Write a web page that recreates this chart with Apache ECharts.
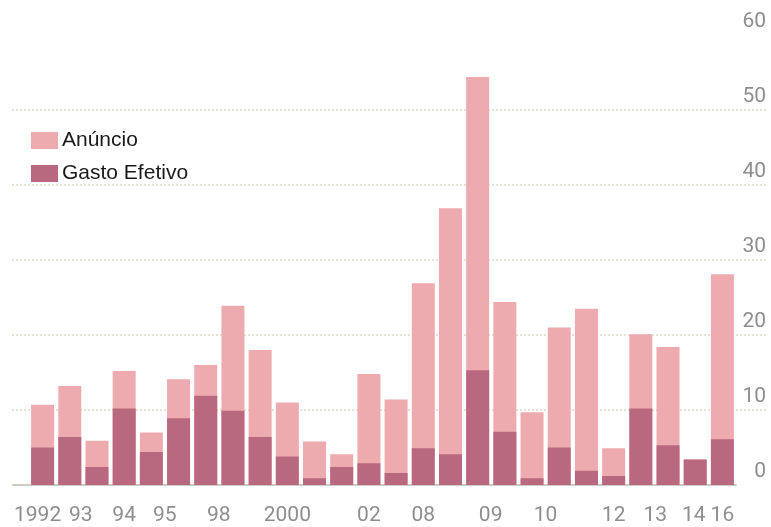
<!DOCTYPE html>
<html>
<head>
<meta charset="utf-8">
<script src="https://cdn.jsdelivr.net/npm/echarts@6/dist/echarts.min.js"></script>
<style>
  html, body { margin: 0; padding: 0; background: #fff; }
  #chart { width: 771px; height: 527px; }
</style>
</head>
<body>
<div id="chart"></div>
<script>
// one bar per announcement, labelled by year where the original has a label
const categories = ['1992', '93', '', '94', '95', '', '98', '', '', '2000', '', '', '02',
                    '', '08', '', '09', '', '10', '', '', '12', '13', '', '14', '16'];
const anuncio = [10.7, 13.2, 5.9, 15.2, 7.0, 14.1, 16.0, 23.9, 18.0, 11.0, 5.8, 4.1, 14.8,
                 11.4, 26.9, 36.9, 54.4, 24.4, 9.7, 21.0, 23.5, 4.9, 20.1, 18.4, 3.4, 28.1];
const gastoEfetivo = [5.0, 6.4, 2.4, 10.2, 4.4, 8.9, 11.9, 9.9, 6.4, 3.8, 0.9, 2.4, 2.9,
                      1.6, 4.9, 4.1, 15.3, 7.1, 0.9, 5.0, 1.9, 1.2, 10.2, 5.3, 3.4, 6.1];
const yMax = 60;
const yStep = 10;

const lightColor = '#eeabaf';
const darkColor = '#b9697f';
const labelColor = '#8e8e8e';
const labelFont = 'Roboto';

// the original labels sit a little off some bars
const labelShift = { 0: -5, 1: 11, 4: 13.5, 6: 13, 16: 13, 18: 13.5, 22: 14.5, 24: -1.5 };
const xData = categories.map(function (c, i) {
    const s = labelShift[i];
    if (!s) return c;
    return { value: c, textStyle: { padding: s > 0 ? [0, 0, 0, 2 * s] : [0, -2 * s, 0, 0] } };
});

const dom = document.getElementById('chart');
const myChart = echarts.init(dom, null, { renderer: 'canvas' });

const option = {
    animation: false,
    backgroundColor: '#fff',
    legend: {
        orient: 'vertical',
        left: 26,
        top: 125,
        icon: 'rect',
        itemWidth: 27,
        itemHeight: 17,
        itemGap: 12,
        textStyle: { fontFamily: 'Liberation Sans', fontSize: 21, color: '#1a1a1a', padding: [0, 0, 0, -1] },
        data: ['Anúncio', 'Gasto Efetivo']
    },
    grid: [
        { left: 12, right: 3, top: 35, bottom: 42 },   // gridlines + value labels
        { left: 29, right: 35, top: 35, bottom: 42 },  // bars
        { left: 13, right: 35, top: 35, bottom: 42 }   // baseline
    ],
    xAxis: [
        { gridIndex: 0, type: 'value', show: false },
        {
            gridIndex: 1,
            type: 'category',
            data: xData,
            axisLine: { show: false },
            axisTick: { show: false },
            axisLabel: {
                interval: 0,
                margin: 20,
                fontFamily: labelFont,
                fontSize: 21,
                color: labelColor
            }
        },
        {
            gridIndex: 2,
            type: 'value',
            min: 0,
            max: 1,
            axisLine: { show: true, lineStyle: { color: '#cdcbc3', width: 2 } },
            axisTick: { show: false },
            axisLabel: { show: false },
            splitLine: { show: false }
        }
    ],
    yAxis: [
        {
            gridIndex: 0,
            type: 'value',
            position: 'right',
            min: 0,
            max: yMax,
            interval: yStep,
            axisLine: { show: false },
            axisTick: { show: false },
            axisLabel: {
                inside: true,
                margin: 2,
                verticalAlign: 'bottom',
                padding: [0, 0, 3, 0],
                fontFamily: labelFont,
                fontSize: 21,
                color: labelColor
            },
            splitLine: {
                show: true,
                showMinLine: false,
                showMaxLine: false,
                lineStyle: { type: [2, 2], color: '#e6e2d6', width: 2 }
            }
        },
        { gridIndex: 1, type: 'value', min: 0, max: yMax, show: false },
        { gridIndex: 2, type: 'value', min: 0, max: 1, show: false }
    ],
    series: [
        {
            name: 'Anúncio',
            type: 'bar',
            xAxisIndex: 1,
            yAxisIndex: 1,
            data: anuncio,
            barWidth: 23,
            barGap: '-100%',
            itemStyle: { color: lightColor }
        },
        {
            name: 'Gasto Efetivo',
            type: 'bar',
            xAxisIndex: 1,
            yAxisIndex: 1,
            data: gastoEfetivo,
            barWidth: 23,
            barGap: '-100%',
            itemStyle: { color: darkColor }
        }
    ]
};
myChart.setOption(option);
</script>
</body>
</html>
